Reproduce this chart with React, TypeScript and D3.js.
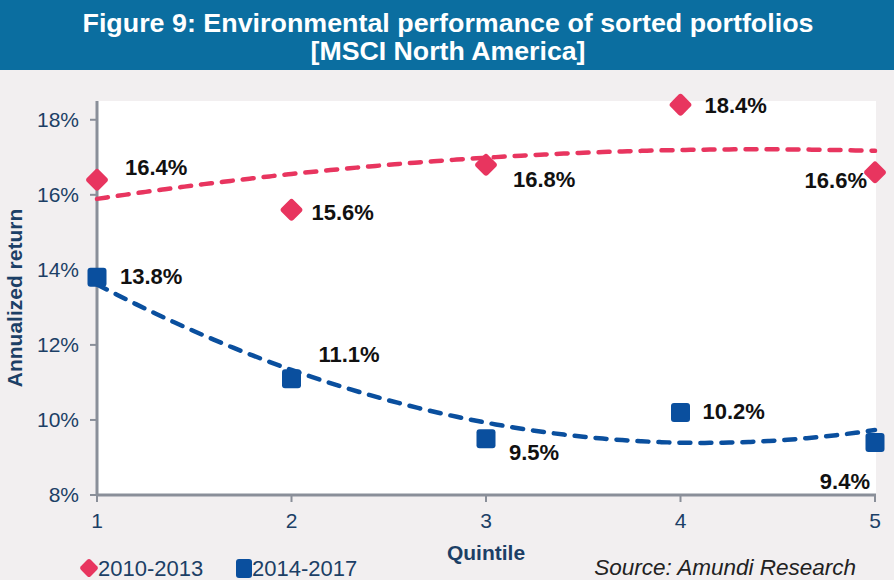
import React from 'react';
import * as d3 from 'd3';

const quintiles = [1, 2, 3, 4, 5];
const returns2010 = [16.4, 15.6, 16.8, 18.4, 16.6];
const returns2014 = [13.8, 11.1, 9.5, 10.2, 9.4];
const yTicks = [8, 10, 12, 14, 16, 18];
const seriesNames = ['2010-2013', '2014-2017'];

// label offsets per point (dx, dy, anchor) to mimic the original placement
const labels2010 = [
  { dx: 28, dy: -5, anchor: 'start' },
  { dx: 20, dy: 10, anchor: 'start' },
  { dx: 27, dy: 22, anchor: 'start' },
  { dx: 24, dy: 8, anchor: 'start' },
  { dx: -8, dy: 16, anchor: 'end' },
];
const labels2014 = [
  { dx: 23, dy: 7, anchor: 'start' },
  { dx: 27, dy: -17, anchor: 'start' },
  { dx: 23, dy: 21, anchor: 'start' },
  { dx: 22, dy: 7, anchor: 'start' },
  { dx: -5, dy: 47, anchor: 'end' },
];

const W = 894;
const H = 580;
const PINK = '#e8355f';
const BLUE = '#0a4f9e';
const NAVY = '#1c3f66';
const AXIS = '#8a8f99';
const FONT = '"Liberation Sans", Arial, sans-serif';

// quadratic least-squares fit, used for the dashed trend lines
function quadFit(xs: number[], ys: number[]) {
  const mx = d3.mean(xs)!;
  const t = xs.map((x) => x - mx);
  const t2mean = d3.mean(t.map((v) => v * v))!;
  const p2 = t.map((v) => v * v - t2mean);
  const a = d3.mean(ys)!;
  const b = d3.sum(t.map((v, i) => v * ys[i])) / d3.sum(t.map((v) => v * v));
  const c = d3.sum(p2.map((v, i) => v * ys[i])) / d3.sum(p2.map((v) => v * v));
  return (x: number) => {
    const tt = x - mx;
    return a + b * tt + c * (tt * tt - t2mean);
  };
}

export default function App() {
  const x = d3.scaleLinear().domain([1, 5]).range([97, 875]);
  const y = d3.scaleLinear().domain([8, 18.5]).range([495, 101]);

  const samples = d3.range(1, 5.0001, 0.05);
  const line = d3
    .line<number[]>()
    .x((d) => x(d[0]))
    .y((d) => y(d[1]))
    .curve(d3.curveMonotoneX);

  const fit1 = quadFit(quintiles, returns2010);
  const fit2 = quadFit(quintiles, returns2014);

  return (
    <svg
      width={W}
      height={H}
      style={{ position: 'absolute', left: 0, top: 0 }}
      fontFamily={FONT}
    >
      <rect width={W} height={H} fill="#f2eff0" />
      <rect x={0} y={0} width={W} height={70} fill="#0b6ea0" />
      <text
        x={448}
        y={32}
        textAnchor="middle"
        fill="#fff"
        fontSize={26}
        fontWeight="bold"
        textLength={731}
        lengthAdjust="spacingAndGlyphs"
      >
        Figure 9: Environmental performance of sorted portfolios
      </text>
      <text
        x={448}
        y={60}
        textAnchor="middle"
        fill="#fff"
        fontSize={26}
        fontWeight="bold"
        textLength={275}
        lengthAdjust="spacingAndGlyphs"
      >
        [MSCI North America]
      </text>

      <rect x={97} y={101} width={779} height={394} fill="#fff" />

      {/* axes */}
      <line x1={97} x2={97} y1={101} y2={495} stroke={AXIS} strokeWidth={3} />
      <line x1={97} x2={876} y1={495} y2={495} stroke={AXIS} strokeWidth={3} />
      {yTicks.map((t) => (
        <g key={t}>
          <line x1={90} x2={97} y1={y(t)} y2={y(t)} stroke={AXIS} strokeWidth={2} />
          <text x={79} y={y(t) + 7} textAnchor="end" fill={NAVY} fontSize={21}>
            {t}%
          </text>
        </g>
      ))}
      {quintiles.map((q) => (
        <g key={q}>
          <line x1={x(q)} x2={x(q)} y1={495} y2={502} stroke={AXIS} strokeWidth={2} />
          <text x={x(q)} y={528} textAnchor="middle" fill={NAVY} fontSize={21}>
            {q}
          </text>
        </g>
      ))}
      <text x={486} y={560} textAnchor="middle" fill={NAVY} fontSize={21} fontWeight="bold">
        Quintile
      </text>
      <text
        transform="translate(22,298) rotate(-90)"
        textAnchor="middle"
        fill={NAVY}
        fontSize={21}
        fontWeight="bold"
      >
        Annualized return
      </text>

      {/* trend lines */}
      <path
        d={line(samples.map((s) => [s, fit1(s)]))!}
        fill="none"
        stroke={PINK}
        strokeWidth={4.5}
        strokeDasharray="11 10"
        strokeLinecap="round"
      />
      <path
        d={line(samples.map((s) => [s, fit2(s)]))!}
        fill="none"
        stroke={BLUE}
        strokeWidth={4.5}
        strokeDasharray="11 10"
        strokeLinecap="round"
      />

      {/* markers */}
      {returns2010.map((v, i) => (
        <rect
          key={'p' + i}
          x={-8.5}
          y={-8.5}
          width={17}
          height={17}
          rx={3}
          fill={PINK}
          transform={`translate(${x(quintiles[i])},${y(v)}) rotate(45)`}
        />
      ))}
      {returns2014.map((v, i) => (
        <rect
          key={'b' + i}
          x={x(quintiles[i]) - 9.5}
          y={y(v) - 9.5}
          width={19}
          height={19}
          rx={3}
          fill={BLUE}
        />
      ))}

      {/* data labels */}
      {returns2010.map((v, i) => (
        <text
          key={'lp' + i}
          x={x(quintiles[i]) + labels2010[i].dx}
          y={y(v) + labels2010[i].dy}
          textAnchor={labels2010[i].anchor}
          fontSize={22}
          fontWeight="bold"
          fill="#111"
        >
          {v.toFixed(1)}%
        </text>
      ))}
      {returns2014.map((v, i) => (
        <text
          key={'lb' + i}
          x={x(quintiles[i]) + labels2014[i].dx}
          y={y(v) + labels2014[i].dy}
          textAnchor={labels2014[i].anchor}
          fontSize={22}
          fontWeight="bold"
          fill="#111"
        >
          {v.toFixed(1)}%
        </text>
      ))}

      {/* legend */}
      <rect x={-7} y={-7} width={14} height={14} rx={2.5} fill={PINK} transform="translate(89,568) rotate(45)" />
      <text x={98} y={576} fill={NAVY} fontSize={22}>
        {seriesNames[0]}
      </text>
      <rect x={236} y={559} width={16} height={19} rx={3} fill={BLUE} />
      <text x={252} y={576} fill={NAVY} fontSize={22}>
        {seriesNames[1]}
      </text>
      <text x={856} y={575} textAnchor="end" fill="#222" fontSize={22.5} fontStyle="italic">
        Source: Amundi Research
      </text>
    </svg>
  );
}
